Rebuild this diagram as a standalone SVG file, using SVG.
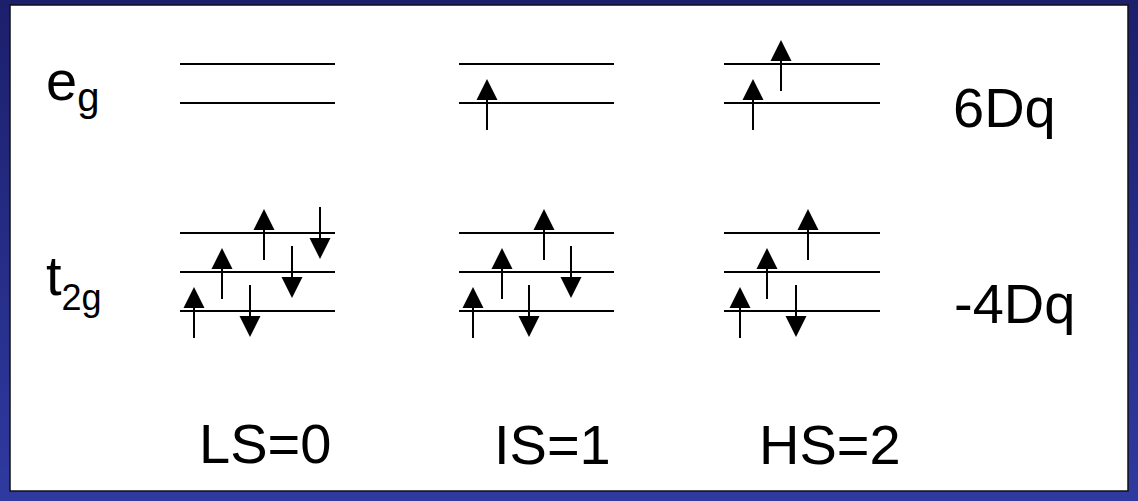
<svg xmlns="http://www.w3.org/2000/svg" width="1138" height="501" viewBox="0 0 1138 501">
  <style>
    .lvl { stroke: #000; stroke-width: 2; }
    .lbl { font-family: "Liberation Sans", Arial, sans-serif; font-size: 56px; fill: #000; }
    .sub { font-size: 36px; }
    .sub-e { font-size: 40px; }
  </style>
  <defs>
    <linearGradient id="frame" x1="0" y1="0" x2="0" y2="1">
      <stop offset="0" stop-color="#1c1f6c"/>
      <stop offset="1" stop-color="#2f3aa0"/>
    </linearGradient>
    <!-- spin arrows, origin on the orbital level line -->
    <g id="up">
      <line x1="0" y1="27" x2="0" y2="-6" stroke="#000" stroke-width="2"/>
      <polygon points="0,-24 -10.5,-3 10.5,-3" fill="#000"/>
    </g>
    <g id="down">
      <line x1="0" y1="-26" x2="0" y2="6" stroke="#000" stroke-width="2"/>
      <polygon points="-10.5,5 10.5,5 0,26" fill="#000"/>
    </g>
  </defs>

  <!-- slide frame -->
  <rect x="0" y="0" width="1138" height="501" fill="url(#frame)"/>
  <rect x="10" y="5" width="1118" height="486" fill="#fff" stroke="#111" stroke-width="1.5"/>

  <!-- row labels -->
  <g id="label-eg">
    <text class="lbl" x="46" y="100">e<tspan class="sub-e" dy="11">g</tspan></text>
  </g>
  <g id="label-t2g">
    <text class="lbl" x="46" y="295">t<tspan class="sub" dy="15">2g</tspan></text>
  </g>
  <g id="label-6Dq">
    <text class="lbl" x="953" y="127">6Dq</text>
  </g>
  <g id="label-4Dq">
    <text class="lbl" x="954" y="323">-4Dq</text>
  </g>

  <!-- low spin -->
  <g id="ls">
    <line class="lvl" x1="180" y1="64" x2="335" y2="64"/>
    <line class="lvl" x1="180" y1="103" x2="335" y2="103"/>
    <line class="lvl" x1="180" y1="233" x2="335" y2="233"/>
    <line class="lvl" x1="180" y1="272" x2="335" y2="272"/>
    <line class="lvl" x1="180" y1="311" x2="335" y2="311"/>
    <use href="#up" x="194" y="311"/>
    <use href="#up" x="222" y="272"/>
    <use href="#down" x="250" y="311"/>
    <use href="#up" x="264" y="233"/>
    <use href="#down" x="292" y="272"/>
    <use href="#down" x="320" y="233"/>
    <text class="lbl" x="199" y="463">LS=0</text>
  </g>

  <!-- intermediate spin -->
  <g id="is">
    <line class="lvl" x1="459" y1="64" x2="614" y2="64"/>
    <line class="lvl" x1="459" y1="103" x2="614" y2="103"/>
    <line class="lvl" x1="459" y1="233" x2="614" y2="233"/>
    <line class="lvl" x1="459" y1="272" x2="614" y2="272"/>
    <line class="lvl" x1="459" y1="311" x2="614" y2="311"/>
    <use href="#up" x="487" y="103"/>
    <use href="#up" x="473" y="311"/>
    <use href="#up" x="502" y="272"/>
    <use href="#down" x="529" y="311"/>
    <use href="#up" x="544" y="233"/>
    <use href="#down" x="571" y="272"/>
    <text class="lbl" x="494" y="464">IS=1</text>
  </g>

  <!-- high spin -->
  <g id="hs">
    <line class="lvl" x1="724" y1="64" x2="880" y2="64"/>
    <line class="lvl" x1="724" y1="103" x2="880" y2="103"/>
    <line class="lvl" x1="724" y1="233" x2="880" y2="233"/>
    <line class="lvl" x1="724" y1="272" x2="880" y2="272"/>
    <line class="lvl" x1="724" y1="311" x2="880" y2="311"/>
    <use href="#up" x="753" y="103"/>
    <use href="#up" x="781" y="64"/>
    <use href="#up" x="740" y="311"/>
    <use href="#up" x="767" y="272"/>
    <use href="#down" x="796" y="311"/>
    <use href="#up" x="808" y="233"/>
    <text class="lbl" x="759" y="464">HS=2</text>
  </g>
</svg>
